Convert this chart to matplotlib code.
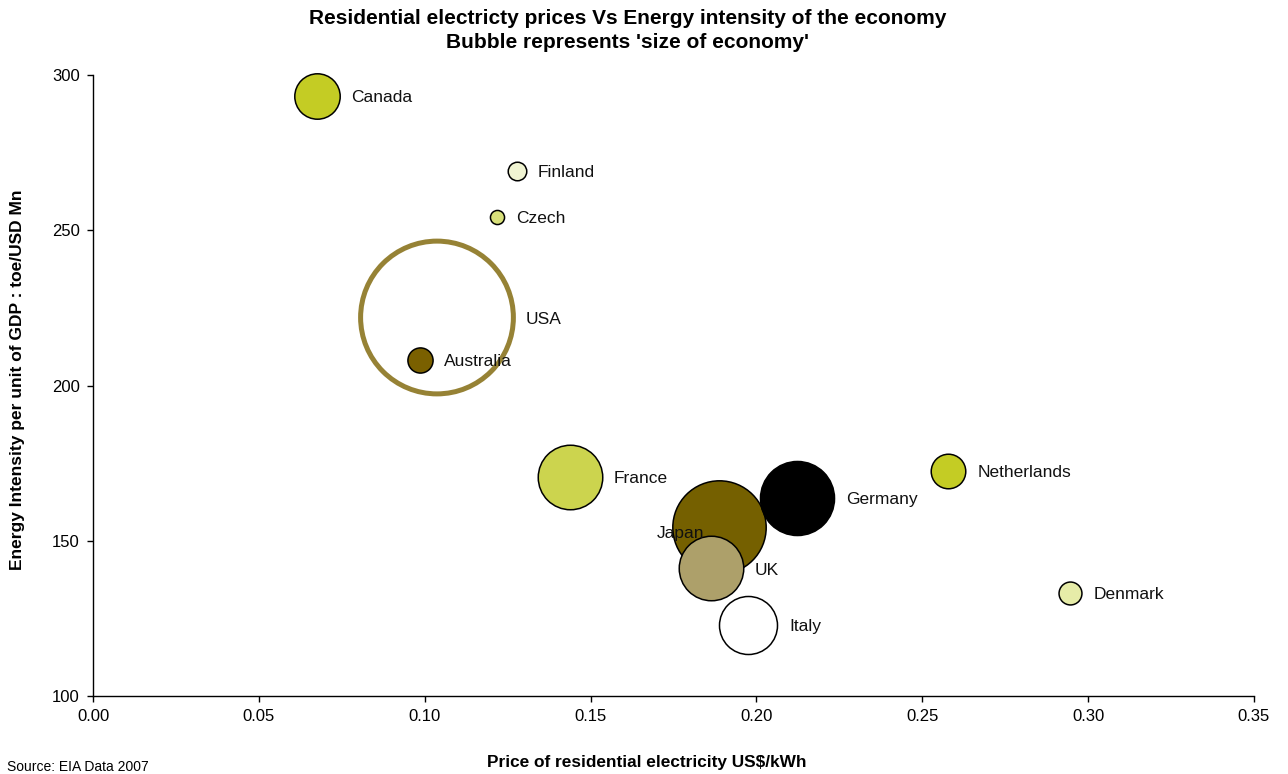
import matplotlib
matplotlib.use("Agg")
import matplotlib.pyplot as plt
import numpy as np

plt.rcParams['font.family'] = ['Liberation Sans', 'DejaVu Sans']

countries = ["USA", "Japan", "Germany", "UK", "France", "Italy", "Canada",
             "Netherlands", "Australia", "Denmark", "Finland", "Czech"]
price = [0.1037, 0.1887, 0.2122, 0.1862, 0.1437, 0.1975, 0.0675,
         0.2579, 0.0986, 0.2945, 0.1278, 0.1218]
intensity = [221.9, 154.4, 163.8, 141.1, 170.5, 122.9, 293.2,
             172.4, 208.2, 133.1, 269.1, 254.3]
economy = [12.9, 4.82, 3.03, 2.30, 2.30, 1.86, 1.14,
           0.66, 0.35, 0.29, 0.19, 0.11]
fills = ["none", "#756000", "#000000", "#ADA06A", "#CCD44E", "#FFFFFF", "#C4CC24",
         "#C4CC24", "#7A6000", "#E6ECA8", "#F0F4D2", "#D8E07A"]
edges = ["#968235", "black", "black", "black", "black", "black", "black",
         "black", "black", "black", "black", "black"]
edge_w = [3.6, 1.1, 1.1, 1.1, 1.1, 1.1, 1.1, 1.1, 1.1, 1.1, 1.1, 1.1]

xticks = [0.00, 0.05, 0.10, 0.15, 0.20, 0.25, 0.30, 0.35]
yticks = [100, 150, 200, 250, 300]

SCALE = 938.0  # points^2 per unit of economy size

fig = plt.figure(figsize=(12.88, 7.74), dpi=100)
ax = fig.add_axes([93/1288, 1-696/774, (1254-93)/1288, (696-75)/774])

order = [0, 1, 2, 4, 3, 5, 6, 7, 8, 9, 10, 11]
for z, i in enumerate(order):
    ax.scatter(price[i], intensity[i], s=economy[i]*SCALE,
               facecolors=fills[i], edgecolors=edges[i], linewidths=edge_w[i],
               zorder=2+z, clip_on=False)

for i, name in enumerate(countries):
    r_pt = np.sqrt(economy[i]*SCALE)/2
    if name == "Japan":
        ax.annotate(name, (price[i], intensity[i]), xytext=(-28, -4.5),
                    textcoords='offset points', ha='center', va='center',
                    fontsize=12.5, color='#111111', zorder=30)
    else:
        ax.annotate(name, (price[i], intensity[i]), xytext=(r_pt + 8.5, -1.2),
                    textcoords='offset points', ha='left', va='center',
                    fontsize=12.5, color='#111111', zorder=30)

ax.set_xlim(0, 0.35)
ax.set_ylim(100, 300)
ax.set_xticks(xticks)
ax.set_xticklabels([f"{v:.2f}" for v in xticks])
ax.set_yticks(yticks)
ax.set_yticklabels([str(v) for v in yticks])
ax.tick_params(direction='out', length=4, width=1, labelsize=12, pad=5.5)
for sp in ['top', 'right']:
    ax.spines[sp].set_visible(False)
for sp in ['left', 'bottom']:
    ax.spines[sp].set_linewidth(1)

fig.text(628/1288, 1-19/774, "Residential electricty prices Vs Energy intensity of the economy",
         ha='center', va='center', fontsize=15, fontweight='bold')
fig.text(628/1288, 1-43/774, "Bubble represents 'size of economy'",
         ha='center', va='center', fontsize=15, fontweight='bold')
fig.text(647/1288, 1-762/774, "Price of residential electricity US$/kWh",
         ha='center', va='center', fontsize=12.4, fontweight='bold')
fig.text(18/1288, 1-380/774, "Energy Intensity per unit of GDP : toe/USD Mn",
         ha='center', va='center', rotation=90, fontsize=12.5, fontweight='bold')
fig.text(7/1288, 1-767/774, "Source: EIA Data 2007", ha='left', va='center', fontsize=10)

fig.savefig("out.png", dpi=100)
